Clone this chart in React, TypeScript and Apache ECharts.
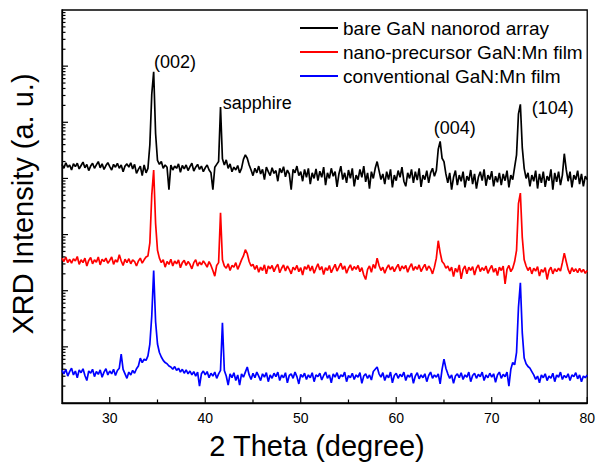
import React, { useEffect, useRef } from "react";
import * as echarts from "echarts";

// 2θ sampling grid: 25.0 to 80.0 in 0.2° steps (276 points)
const THETA_START = 25;
const THETA_STEP = 0.2;

// log10(intensity), one row per degree (θ.0, .2, .4, .6, .8)
const bareGaN = [
  4.25, 4.18, 4.28, 4.20, 4.24,
  4.15, 4.26, 4.21, 4.27, 4.17,
  4.23, 4.29, 4.19, 4.25, 4.14,
  4.22, 4.27, 4.18, 4.24, 4.30,
  4.19, 4.26, 4.16, 4.23, 4.28,
  4.21, 4.15, 4.25, 4.20, 4.27,
  4.18, 4.24, 4.12, 4.22, 4.26,
  4.20, 4.28, 4.17, 4.25, 4.09,
  4.16, 4.22, 4.05, 4.24, 4.10,
  4.18, 4.60, 5.50, 5.90, 4.80,
  4.32, 4.25, 4.30, 4.18, 4.24,
  4.20, 3.80, 4.24, 4.15, 4.22,
  4.18, 4.26, 4.11, 4.23, 4.17,
  4.24, 4.14, 4.21, 4.27, 4.13,
  4.20, 4.25, 4.16, 4.22, 4.12,
  4.19, 4.24, 4.15, 4.10, 3.80,
  4.20, 4.25, 4.30, 5.27, 4.35,
  4.24, 4.33, 4.18, 4.26, 4.12,
  4.20, 4.15, 4.23, 4.10, 4.18,
  4.34, 4.42, 4.36, 4.24, 4.15,
  4.05, 4.18, 4.10, 4.22, 4.08,
  4.16, 3.98, 4.20, 4.12, 4.05,
  4.19, 4.09, 4.14, 3.95, 4.18,
  4.10, 4.21, 4.03, 4.15, 4.08,
  3.80, 4.16, 4.10, 4.22, 4.05,
  4.12, 3.95, 4.16, 4.02, 4.18,
  3.90, 4.10, 4.00, 4.17, 3.96,
  4.13, 4.02, 4.20, 3.88, 4.10,
  4.00, 4.18, 4.04, 4.12, 3.85,
  4.08, 4.22, 3.98, 4.10, 3.92,
  4.15, 4.00, 4.18, 3.86, 4.06,
  3.98, 4.16, 4.02, 4.22, 3.94,
  4.10, 3.82, 4.12, 4.00, 4.18,
  4.30, 4.14, 3.98, 4.08, 3.90,
  4.12, 3.98, 4.16, 3.84, 4.06,
  3.96, 4.14, 4.02, 4.20, 3.95,
  3.86, 4.10, 4.00, 4.16, 3.92,
  4.12, 3.97, 4.18, 3.85, 4.06,
  3.98, 4.14, 3.92, 4.10, 4.18,
  4.04, 4.14, 4.52, 4.66, 4.36,
  4.30, 4.08, 3.92, 4.10, 3.80,
  4.02, 4.14, 3.88, 4.06, 3.95,
  4.12, 3.84, 4.04, 3.96, 4.15,
  3.90, 4.08, 3.82, 4.02, 4.12,
  3.96, 4.16, 3.87, 4.06, 3.98,
  4.13, 3.86, 4.04, 3.93, 4.10,
  3.88, 4.08, 3.96, 4.14, 3.84,
  4.06, 3.98, 4.20, 4.42, 5.15,
  5.32, 4.55, 4.18, 4.00, 4.10,
  3.86, 4.06, 3.95, 4.14, 3.82,
  4.08, 3.92, 4.12, 3.85, 4.04,
  3.96, 4.16, 3.80, 4.10, 3.94,
  4.12, 3.88, 4.06, 4.44, 4.16,
  3.95, 4.12, 3.84, 4.06, 3.98,
  4.14, 3.90, 4.08, 3.86, 4.04,
  3.98,
];

const nanoPrecursor = [
  2.58, 2.52, 2.60, 2.50, 2.56,
  2.49, 2.57, 2.53, 2.61, 2.47,
  2.55, 2.50, 2.58, 2.44, 2.54,
  2.59, 2.48, 2.55, 2.51, 2.60,
  2.46, 2.56, 2.52, 2.58, 2.49,
  2.54, 2.60, 2.47, 2.55, 2.51,
  2.64, 2.53, 2.45, 2.56, 2.50,
  2.57, 2.48, 2.55, 2.52, 2.44,
  2.53, 2.58, 2.49, 2.55, 2.60,
  2.62, 2.85, 3.70, 4.15, 3.20,
  2.72, 2.58, 2.50, 2.55, 2.42,
  2.52, 2.47, 2.56, 2.44, 2.53,
  2.48, 2.55, 2.41, 2.50, 2.54,
  2.45, 2.52, 2.47, 2.39, 2.50,
  2.55, 2.44, 2.51, 2.46, 2.53,
  2.48, 2.42, 2.52, 2.45, 2.36,
  2.26, 2.45, 2.50, 3.39, 2.55,
  2.44, 2.40, 2.48, 2.36, 2.45,
  2.42, 2.50, 2.38, 2.46, 2.55,
  2.62, 2.73, 2.66, 2.52, 2.44,
  2.47, 2.38, 2.45, 2.33, 2.42,
  2.36, 2.46, 2.30, 2.44, 2.39,
  2.45, 2.34, 2.42, 2.47, 2.32,
  2.40, 2.46, 2.35, 2.44, 2.38,
  2.30, 2.42, 2.37, 2.45, 2.34,
  2.41, 2.28, 2.43, 2.38, 2.46,
  2.35, 2.44, 2.31, 2.40, 2.48,
  2.37, 2.43, 2.29, 2.41, 2.36,
  2.45, 2.32, 2.40, 2.47, 2.35,
  2.42, 2.49, 2.38, 2.44, 2.31,
  2.40, 2.46, 2.36, 2.43, 2.38,
  2.45, 2.34, 2.41, 2.28, 2.20,
  2.38, 2.44, 2.33, 2.47, 2.40,
  2.58, 2.45, 2.36, 2.42, 2.31,
  2.40, 2.46, 2.37, 2.43, 2.34,
  2.41, 2.47, 2.35, 2.44, 2.39,
  2.45, 2.33, 2.42, 2.48, 2.36,
  2.43, 2.38, 2.46, 2.34, 2.41,
  2.47, 2.36, 2.44, 2.39, 2.30,
  2.42, 2.58, 2.89, 2.68, 2.52,
  2.48, 2.40, 2.44, 2.35, 2.42,
  2.25, 2.40, 2.33, 2.46, 2.21,
  2.38, 2.44, 2.30, 2.42, 2.36,
  2.43, 2.28, 2.40, 2.46, 2.34,
  2.41, 2.36, 2.44, 2.31, 2.39,
  2.45, 2.33, 2.40, 2.27, 2.42,
  2.36, 2.44, 2.12, 2.38, 2.45,
  2.34, 2.40, 2.52, 2.72, 3.55,
  3.74, 2.95, 2.55, 2.44, 2.36,
  2.42, 2.30, 2.40, 2.35, 2.43,
  2.26, 2.38, 2.33, 2.41, 2.20,
  2.36, 2.42, 2.30, 2.39, 2.34,
  2.40, 2.35, 2.50, 2.67, 2.52,
  2.38, 2.30, 2.41, 2.34, 2.39,
  2.32, 2.40, 2.33, 2.38, 2.31,
  2.36,
];

const conventional = [
  0.58, 0.52, 0.60, 0.48, 0.56,
  0.62, 0.50, 0.57, 0.45, 0.59,
  0.54, 0.61, 0.49, 0.40, 0.57,
  0.53, 0.60, 0.47, 0.56, 0.51,
  0.59, 0.46, 0.55, 0.61, 0.50,
  0.57, 0.52, 0.60, 0.49, 0.58,
  0.62, 0.87, 0.60, 0.52, 0.44,
  0.55, 0.50, 0.58, 0.53, 0.61,
  0.66, 0.80, 0.72, 0.78, 0.76,
  0.84, 1.05, 1.55, 2.36, 1.45,
  1.05, 0.90, 0.82, 0.76, 0.72,
  0.70, 0.66, 0.64, 0.60, 0.65,
  0.58, 0.62, 0.55, 0.60, 0.53,
  0.59, 0.52, 0.57, 0.50, 0.56,
  0.48, 0.55, 0.30, 0.52, 0.57,
  0.50, 0.56, 0.45, 0.53, 0.48,
  0.55, 0.44, 0.52, 0.58, 1.43,
  0.58, 0.48, 0.32, 0.52, 0.45,
  0.54, 0.40, 0.50, 0.32, 0.52,
  0.46, 0.55, 0.64, 0.50, 0.42,
  0.53, 0.45, 0.55, 0.48, 0.40,
  0.52, 0.46, 0.54, 0.38, 0.50,
  0.44, 0.53, 0.47, 0.55, 0.40,
  0.50, 0.45, 0.54, 0.36, 0.49,
  0.52, 0.44, 0.55, 0.47, 0.34,
  0.51, 0.46, 0.53, 0.42, 0.50,
  0.45, 0.54, 0.38, 0.50, 0.47,
  0.53, 0.41, 0.49, 0.55, 0.44,
  0.50, 0.36, 0.52, 0.46, 0.54,
  0.43, 0.50, 0.47, 0.55, 0.38,
  0.49, 0.45, 0.53, 0.42, 0.50,
  0.46, 0.54, 0.35, 0.48, 0.52,
  0.44, 0.50, 0.41, 0.56, 0.60,
  0.64, 0.52, 0.46, 0.54, 0.40,
  0.50, 0.45, 0.55, 0.36, 0.49,
  0.53, 0.44, 0.51, 0.47, 0.55,
  0.40, 0.50, 0.46, 0.53, 0.35,
  0.48, 0.54, 0.43, 0.50, 0.45,
  0.52, 0.38, 0.49, 0.55, 0.44,
  0.50, 0.46, 0.52, 0.34, 0.60,
  0.78, 0.62, 0.52, 0.44, 0.50,
  0.35, 0.48, 0.52, 0.45, 0.54,
  0.42, 0.50, 0.46, 0.55, 0.38,
  0.49, 0.53, 0.44, 0.51, 0.47,
  0.55, 0.40, 0.50, 0.45, 0.53,
  0.46, 0.52, 0.37, 0.50, 0.55,
  0.44, 0.51, 0.47, 0.55, 0.30,
  0.60, 0.72, 0.68, 0.90, 1.70,
  2.14, 1.25, 0.80, 0.70, 0.65,
  0.62, 0.56, 0.50, 0.42, 0.48,
  0.36, 0.50, 0.45, 0.52, 0.40,
  0.48, 0.44, 0.53, 0.38, 0.50,
  0.46, 0.55, 0.42, 0.49, 0.45,
  0.52, 0.40, 0.50, 0.47, 0.54,
  0.43, 0.50, 0.38, 0.48, 0.45,
  0.50,
];

const seriesNames = [
  "bare GaN nanorod array",
  "nano-precursor GaN:Mn film",
  "conventional GaN:Mn film",
];
const seriesColors = ["#000000", "#ff0000", "#0000ff"];

// Peak annotations: [2θ, log10 I, label]
const peakLabels: [number, number, string][] = [
  [34.52, 5.9, "(002)"],
  [41.67, 5.27, "sapphire"],
  [64.55, 4.66, "(004)"],
  [72.94, 5.33, "(104)"],
];
const peakLabelOffsets: [number, number][] = [
  [22, -10],
  [36, -4],
  [15, -13],
  [33, 4],
];

const xMajorTicks = [30, 40, 50, 60, 70, 80];
const xMinorTicks = [35, 45, 55, 65, 75];
const yMajorTicks = [1, 2, 3, 4, 5, 6];
const yDecades = [0, 1, 2, 3, 4, 5, 6];
const yMinorFactors = [2, 3, 4, 5, 6, 7, 8, 9];

const FONT = "'Liberation Sans', Arial, Helvetica, sans-serif";

const toPairs = (vals: number[]) =>
  vals.map((v, i) => [Number((THETA_START + i * THETA_STEP).toFixed(1)), v]);

export default function App() {
  const ref = useRef<HTMLDivElement>(null);

  useEffect(() => {
    if (!ref.current) return;
    const chart = echarts.init(ref.current, undefined, { renderer: "svg" });

    const tickData: number[][] = [];
    xMajorTicks.forEach((x) => tickData.push([x, 0, 6, 0]));
    xMinorTicks.forEach((x) => tickData.push([x, 0, 3.5, 0]));
    yMajorTicks.forEach((y) => tickData.push([25, y, 6, 1]));
    yDecades.forEach((n) =>
      yMinorFactors.forEach((k) => tickData.push([25, n + Math.log10(k), 3.5, 1]))
    );

    const seriesData = [bareGaN, nanoPrecursor, conventional];

    chart.setOption({
      animation: false,
      backgroundColor: "#ffffff",
      grid: {
        left: 62,
        right: 9.5,
        top: 10,
        bottom: 60,
        show: true,
        borderColor: "#000",
        borderWidth: 1.3,
        backgroundColor: "transparent",
      },
      legend: {
        orient: "vertical",
        left: 295,
        top: 13,
        icon: "rect",
        itemWidth: 38,
        itemHeight: 2,
        itemGap: 4,
        data: seriesNames,
        textStyle: { color: "#000", fontSize: 19, fontFamily: FONT, lineHeight: 20 },
      },
      xAxis: {
        type: "value",
        min: 25,
        max: 80,
        interval: 5,
        axisLine: { show: true, lineStyle: { color: "#000", width: 1.3 } },
        axisTick: { show: false },
        splitLine: { show: false },
        axisLabel: {
          color: "#000",
          fontSize: 14,
          fontFamily: FONT,
          margin: 8,
          formatter: (v: number) => (v % 10 === 0 ? String(v) : ""),
        },
      },
      yAxis: {
        type: "value",
        min: 0,
        max: 7,
        interval: 1,
        axisLine: { show: true, lineStyle: { color: "#000", width: 1.3 } },
        axisTick: { show: false },
        axisLabel: { show: false },
        splitLine: { show: false },
      },
      graphic: [
        {
          type: "text",
          x: 317,
          y: 446,
          style: {
            text: "2 Theta (degree)",
            fontSize: 29,
            fontFamily: FONT,
            fill: "#000",
            textAlign: "center",
            textVerticalAlign: "middle",
          },
        },
        {
          type: "text",
          x: 23,
          y: 204,
          rotation: Math.PI / 2,
          style: {
            text: "XRD Intensity (a. u.)",
            fontSize: 29,
            fontFamily: FONT,
            fill: "#000",
            textAlign: "center",
            textVerticalAlign: "middle",
          },
        },
      ],
      series: [
        ...seriesNames.map((name, idx) => ({
          name,
          type: "line",
          data: toPairs(seriesData[idx]),
          symbol: "none",
          showSymbol: false,
          lineStyle: { color: seriesColors[idx], width: 1.7 },
          itemStyle: { color: seriesColors[idx] },
          z: 3 - idx,
          markPoint:
            idx === 0
              ? {
                  symbol: "circle",
                  symbolSize: 1,
                  itemStyle: { color: "rgba(0,0,0,0)" },
                  silent: true,
                  data: peakLabels.map((p, j) => ({
                    coord: [p[0], p[1]],
                    name: p[2],
                    label: {
                      show: true,
                      position: "inside",
                      offset: peakLabelOffsets[j],
                      formatter: p[2],
                      color: "#000",
                      fontSize: 18,
                      fontFamily: FONT,
                    },
                  })),
                }
              : undefined,
        })),
        {
          type: "custom",
          name: "ticks",
          silent: true,
          clip: false,
          z: 10,
          data: tickData,
          renderItem: (_params: any, api: any) => {
            const p = api.coord([api.value(0), api.value(1)]);
            const len = api.value(2);
            const horiz = api.value(3) === 1;
            return {
              type: "line",
              shape: horiz
                ? { x1: p[0], y1: p[1], x2: p[0] + len, y2: p[1] }
                : { x1: p[0], y1: p[1], x2: p[0], y2: p[1] - len },
              style: { stroke: "#000", lineWidth: 1.2 },
            };
          },
        },
      ],
    });

    return () => chart.dispose();
  }, []);

  return (
    <div
      ref={ref}
      style={{ position: "fixed", left: 0, top: 0, width: 598, height: 463, background: "#fff" }}
    />
  );
}
